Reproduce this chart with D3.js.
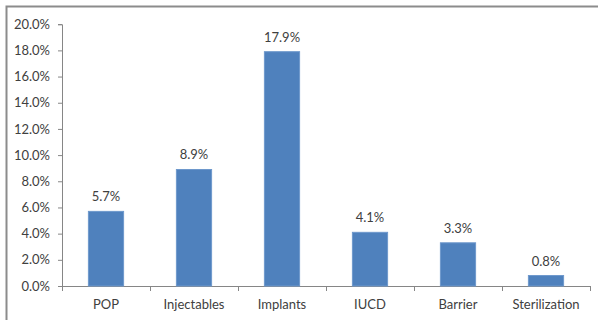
<!DOCTYPE html>
<meta charset="utf-8">
<script src="https://d3js.org/d3.v7.min.js"></script>
<style>
body { margin: 0; background: #fff; }
text { font-family: Lato, "Open Sans", sans-serif; fill: #404040; }
</style>
<div id="chart"></div>
<script>

// data
var categories = ["POP", "Injectables", "Implants", "IUCD", "Barrier", "Sterilization"];
var values = [5.7, 8.9, 17.9, 4.1, 3.3, 0.8];
var yTicks = [0, 2, 4, 6, 8, 10, 12, 14, 16, 18, 20];

var width = 598, height = 320;
var margin = {top: 24, right: 8, bottom: 34, left: 62};

var svg = d3.select("#chart")
  .append("svg")
    .attr("width", width)
    .attr("height", height);

// outer frame
svg.append("rect")
  .attr("x", 6.5).attr("y", 6.5)
  .attr("width", width).attr("height", height)
  .attr("fill", "none")
  .attr("stroke", "#8c8c8c")
  .attr("stroke-width", 2);

var x = d3.scaleBand()
  .domain(categories)
  .range([margin.left, 590])
  .paddingInner(0.6)
  .paddingOuter(0.3);

var y = d3.scaleLinear()
  .domain([0, 20])
  .range([286, 24.2]);

// y axis
var yAxis = svg.append("g")
  .attr("transform", "translate(" + margin.left + ",0)")
  .call(d3.axisLeft(y).tickValues(yTicks).tickSize(4).tickPadding(8)
    .tickFormat(function(d) { return d.toFixed(1) + "%"; }));
yAxis.selectAll("path, line").attr("stroke", "#868686");
yAxis.selectAll("text").style("font-size", "13px").attr("fill", "#404040");

// x axis with ticks at category boundaries
var step = x.step();
svg.append("line")
  .attr("x1", margin.left).attr("x2", 590)
  .attr("y1", y(0) + 0.5).attr("y2", y(0) + 0.5)
  .attr("stroke", "#868686");

var bounds = d3.range(categories.length + 1);
svg.selectAll(".xtick")
  .data(bounds)
  .enter().append("line")
    .attr("class", "xtick")
    .attr("x1", function(i) { return margin.left + i * (590 - margin.left) / categories.length + 0.5; })
    .attr("x2", function(i) { return margin.left + i * (590 - margin.left) / categories.length + 0.5; })
    .attr("y1", y(0))
    .attr("y2", y(0) + 5)
    .attr("stroke", "#868686");

svg.selectAll(".xlabel")
  .data(categories)
  .enter().append("text")
    .attr("class", "xlabel")
    .attr("x", function(d) { return x(d) + x.bandwidth() / 2; })
    .attr("y", 309)
    .attr("text-anchor", "middle")
    .style("font-size", "13px")
    .text(function(d) { return d; });

// bars
svg.selectAll(".bar")
  .data(values)
  .enter().append("rect")
    .attr("class", "bar")
    .attr("x", function(d, i) { return x(categories[i]); })
    .attr("y", function(d) { return y(d); })
    .attr("width", x.bandwidth())
    .attr("height", function(d) { return y(0) - y(d); })
    .attr("fill", "#4f81bd")
    .attr("stroke", "#6e98cc")
    .attr("stroke-width", 1);

// value labels
svg.selectAll(".vlabel")
  .data(values)
  .enter().append("text")
    .attr("class", "vlabel")
    .attr("x", function(d, i) { return x(categories[i]) + x.bandwidth() / 2; })
    .attr("y", function(d) { return y(d) - 10; })
    .attr("text-anchor", "middle")
    .style("font-size", "13px")
    .text(function(d) { return d.toFixed(1) + "%"; });

</script>
